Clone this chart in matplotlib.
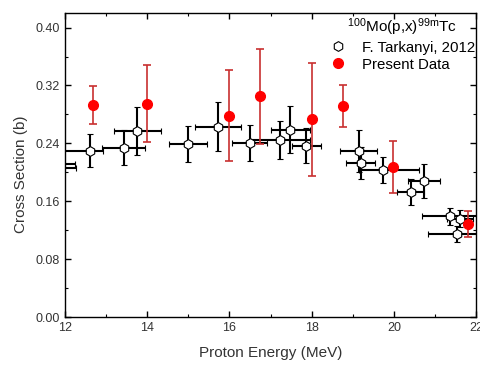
import matplotlib
matplotlib.use("Agg")
import matplotlib.pyplot as plt
from matplotlib.lines import Line2D

plt.rcParams['font.family'] = ['Liberation Sans', 'DejaVu Sans']
plt.rcParams['mathtext.fontset'] = 'custom'
plt.rcParams['mathtext.rm'] = 'Liberation Sans'
plt.rcParams['mathtext.it'] = 'Liberation Sans'

# F. Tarkanyi, 2012 (能量, 截面, x误差左/右, y误差)
tk_e = [11.80, 11.85, 12.60, 13.43, 13.76, 14.99, 15.72, 16.49, 17.22, 17.48,
        17.87, 19.15, 19.19, 19.74, 20.41, 20.73, 21.36, 21.60, 21.53]
tk_s = [0.211, 0.206, 0.230, 0.234, 0.257, 0.239, 0.263, 0.240, 0.245, 0.259,
        0.237, 0.230, 0.213, 0.203, 0.173, 0.188, 0.139, 0.136, 0.115]
tk_xlo = [0.44, 0.43, 0.65, 0.52, 0.57, 0.47, 0.55, 0.43, 0.73, 0.47,
          0.36, 0.45, 0.35, 0.58, 0.33, 0.38, 0.68, 0.32, 0.70]
tk_xhi = [0.44, 0.43, 0.32, 0.52, 0.57, 0.47, 0.55, 0.43, 0.73, 0.47,
          0.36, 0.45, 0.35, 0.86, 0.33, 0.38, 0.68, 0.32, 0.70]
tk_ye = [0.020, 0.020, 0.023, 0.024, 0.033, 0.025, 0.034, 0.025, 0.026, 0.033,
         0.024, 0.029, 0.022, 0.018, 0.018, 0.024, 0.012, 0.012, 0.011]

# Present Data
pd_e = [12.68, 14.00, 16.00, 16.74, 18.00, 18.75, 19.97, 21.79]
pd_s = [0.293, 0.295, 0.278, 0.305, 0.273, 0.292, 0.207, 0.128]
pd_ye = [0.026, 0.053, 0.063, 0.066, 0.078, 0.029, 0.036, 0.018]

fig = plt.figure(figsize=(4.81, 3.65), dpi=100)
ax = fig.add_axes([0.135, 0.1315, 0.855, 0.8325])

ax.errorbar(tk_e, tk_s, xerr=[tk_xlo, tk_xhi], yerr=tk_ye, fmt='h', color='black',
            mfc='white', mec='black', mew=0.8, ms=7, elinewidth=1.5, capsize=2.5,
            capthick=1.5, zorder=3)
ax.errorbar(pd_e, pd_s, yerr=pd_ye, fmt='none', ecolor='#c83030', elinewidth=1.2,
            capsize=3, capthick=1.2, zorder=4)
ax.plot(pd_e, pd_s, 'o', color='#ff0000', ms=7, mec='#ff0000', zorder=5)

ax.set_xlim(12, 22)
ax.set_ylim(0, 0.42)
ax.set_xticks([12, 14, 16, 18, 20, 22])
ax.set_xticks(range(13, 22, 2), minor=True)
ax.set_yticks([0.0, 0.08, 0.16, 0.24, 0.32, 0.40])
ax.set_yticks([0.04, 0.12, 0.20, 0.28, 0.36], minor=True)
ax.set_yticklabels(['0.00', '0.08', '0.16', '0.24', '0.32', '0.40'])
ax.tick_params(which='both', direction='in', top=True, right=True, labelsize=9,
               labelcolor='#333333')
ax.tick_params(which='major', length=4, width=1)
ax.tick_params(which='minor', length=2.5, width=0.8)
for sp in ax.spines.values():
    sp.set_linewidth(1)

ax.set_xlabel('Proton Energy (MeV)', fontsize=11, color='#333333', labelpad=9)
ax.set_ylabel('Cross Section (b)', fontsize=11, color='#333333')
ax.yaxis.set_label_coords(-0.09, 0.47)

handles = [Line2D([], [], ls='none', marker='h', mfc='white', mec='black', mew=0.8, ms=7),
           Line2D([], [], ls='none', marker='o', color='#ff0000', ms=7)]
leg = ax.legend(handles, ['F. Tarkanyi, 2012', 'Present Data'],
                title=r'$^{100}$Mo(p,x)$^{\mathrm{99m}}$Tc', loc='upper right',
                bbox_to_anchor=(1.015, 1.015), frameon=False, fontsize=10.8,
                title_fontsize=11, handletextpad=1.0, handlelength=1.2,
                labelspacing=0.2, borderaxespad=0.1)

fig.savefig('out.png', dpi=100)
